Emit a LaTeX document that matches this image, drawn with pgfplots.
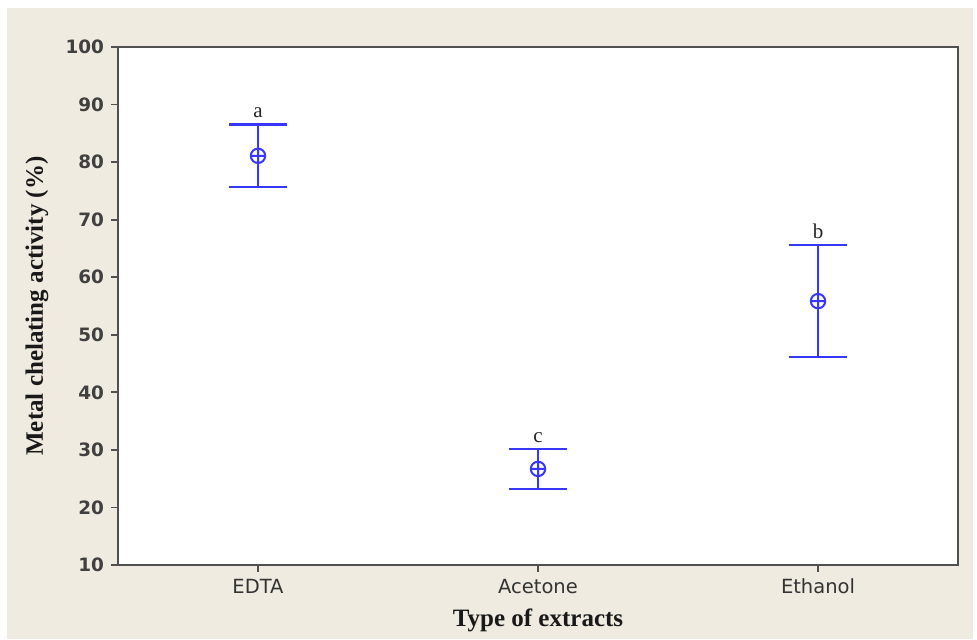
\documentclass[border=0pt]{standalone}
\usepackage{pgfplots}
\pgfplotsset{compat=1.18}
\usepackage{fontspec}
\setmainfont{Liberation Serif}
\newfontfamily\tickfont{DejaVu Sans}
\definecolor{bg}{RGB}{240,235,224}
\definecolor{mblue}{RGB}{55,55,255}
\definecolor{framec}{RGB}{80,80,80}
\begin{document}
\begin{tikzpicture}
\fill[white] (0,0) rectangle (488.5pt,319.5pt);
\fill[bg] (3.5pt,0) rectangle (486.5pt,315.5pt);
\begin{axis}[
 at={(59pt,37pt)}, anchor=south west,
 scale only axis, width=420pt, height=259pt,
 xmin=-0.5, xmax=2.5, ymin=10, ymax=100,
 xtick={0,1,2}, xticklabels={EDTA,Acetone,Ethanol},
 ytick={10,20,...,100},
 /pgf/number format/assume math mode=true,
 axis background/.style={fill=white},
 axis line style={framec, line width=1.1pt},
 tick style={framec, line width=0.9pt},
 tick align=outside, xtick pos=bottom, ytick pos=left,
 major tick length=3.5pt,
 xticklabel style={font=\tickfont\fontsize{9.75}{11}\selectfont, text=black!80},
 yticklabel style={font=\tickfont\bfseries\fontsize{9.2}{11}\selectfont, text=black!75},
 xlabel={Type of extracts}, ylabel={Metal chelating activity (\%)},
 label style={font=\bfseries\fontsize{12.5}{14}\selectfont, text=black!90},
 xlabel style={at={(axis description cs:0.5,-0.1062)}, anchor=center},
 ylabel style={at={(axis description cs:-0.0964,0.5)}, anchor=center},
 clip=false,
]
\addplot[mblue, line width=1.2pt, only marks, mark=oplus, mark size=3.6pt, mark options={line width=1pt, mblue},
 error bars/.cd, y dir=both, y explicit, error bar style={line width=1.2pt, mblue}, error mark options={mblue, line width=1.2pt, mark size=14.5pt, rotate=90}]
 coordinates {(0,81.1) +- (0,5.45) (1,26.7) +- (0,3.5) (2,55.85) +- (0,9.75)};
\addplot[draw=none, nodes near coords, point meta=explicit symbolic, nodes near coords style={anchor=south, font=\fontsize{10.5}{12}\selectfont, inner sep=1pt, yshift=2pt, text=black!85}]
 table[meta=lab] {x y lab
 0 86.55 a
 1 30.15 c
 2 65.6 b
 };
\end{axis}
\end{tikzpicture}
\end{document}
